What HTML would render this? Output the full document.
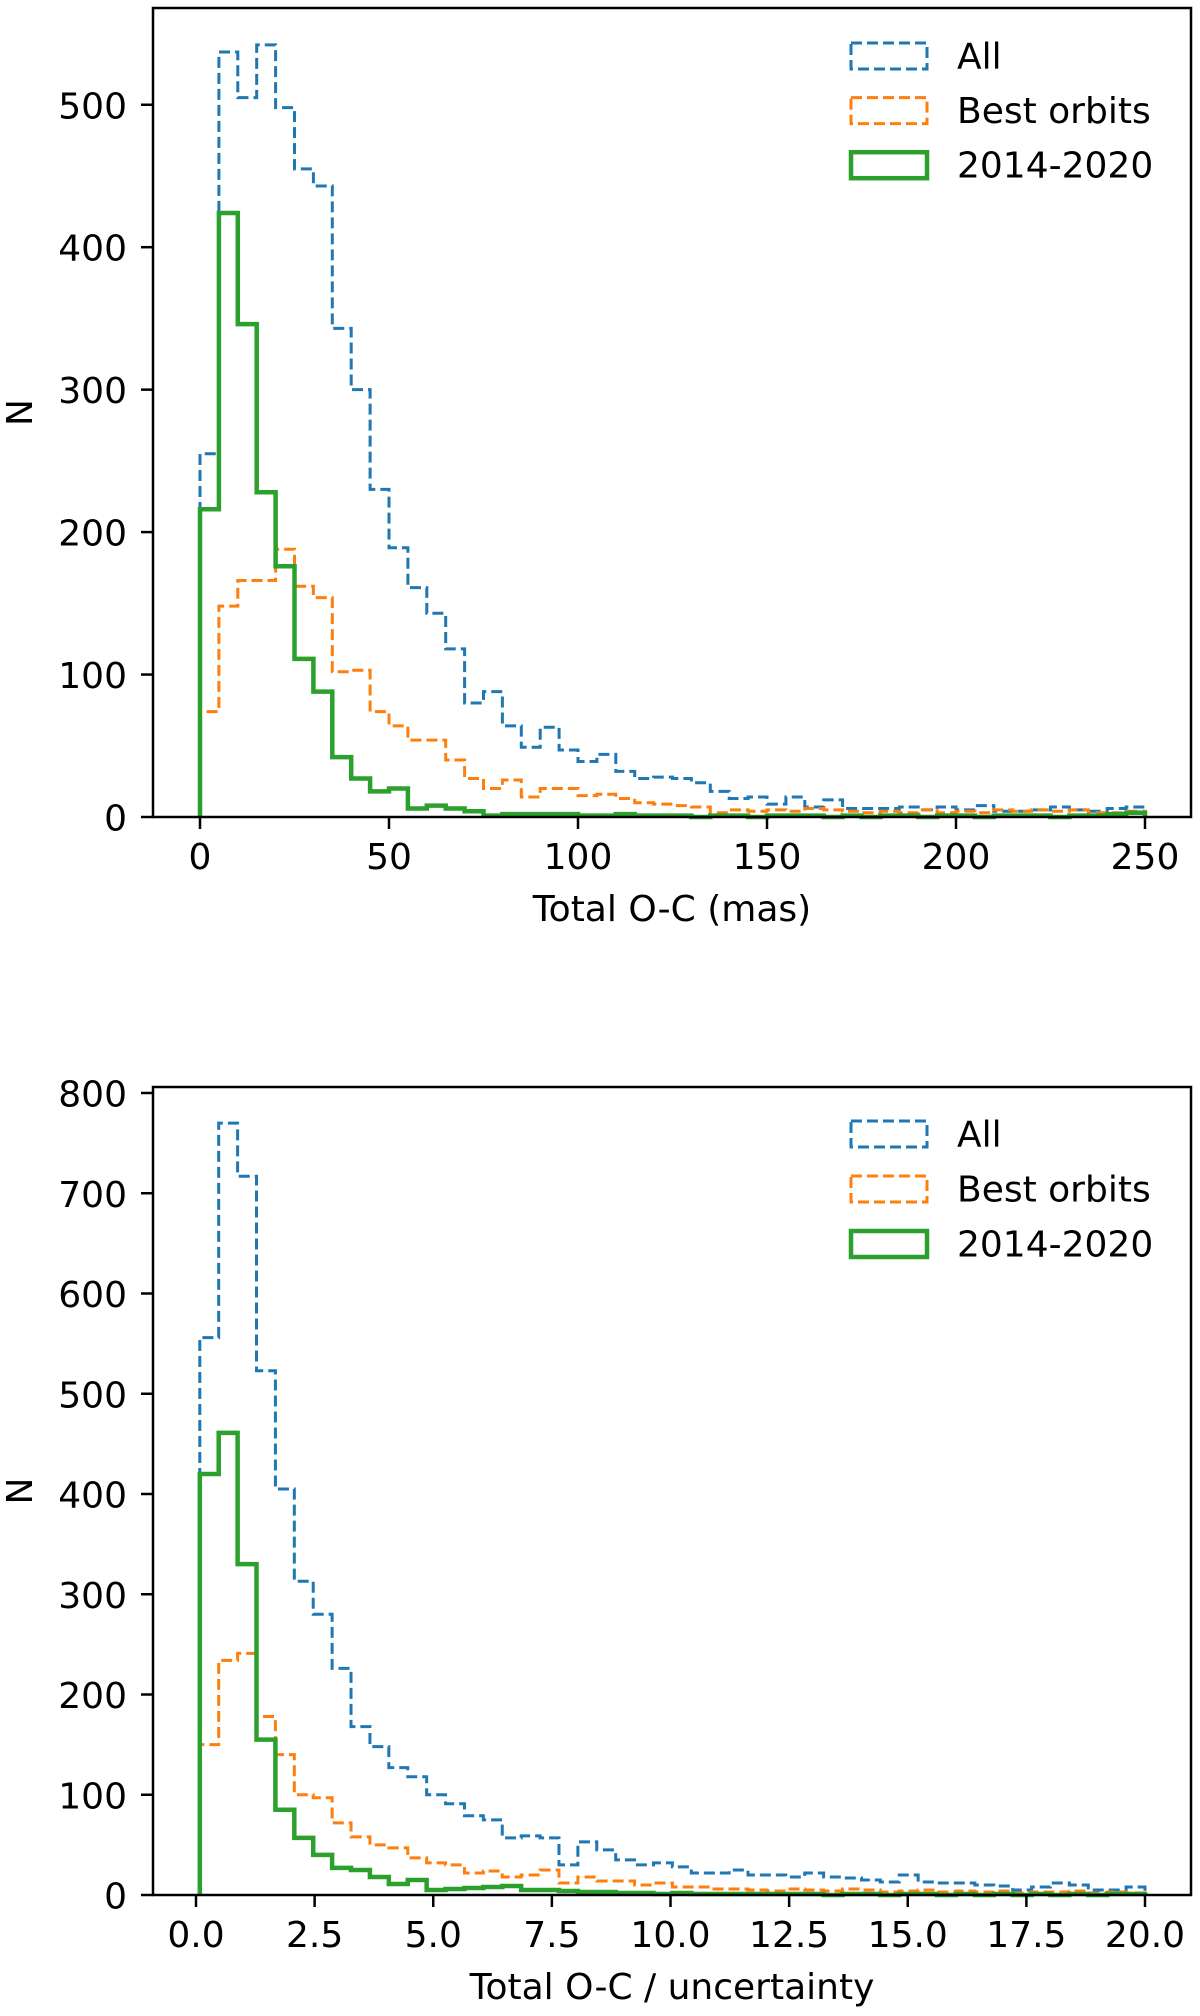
<!DOCTYPE html>
<html><head><meta charset="utf-8"><style>
html,body{margin:0;padding:0;background:#fff}
svg{display:block}
text{font-family:"DejaVu Sans","Liberation Sans",sans-serif;fill:#000}
</style></head><body>
<svg id="fig" width="1200" height="2016" viewBox="0 0 1200 2016" xmlns="http://www.w3.org/2000/svg"></svg>
<script>
// ---- Top panel data (Total O-C in mas, bins of 5 from 0 to 250)
const topBinStart = 0;
const topBinWidth = 5;
const topAll = [255,537,505,542,498,455,443,343,300,230,189,161,143,118,80,88,64,49,63,47,39,44,32,27,28,27,24,18,13,14,9,14,7,12,6,6,6,7,5,7,5,8,4,4,5,7,5,4,6,7];
const topBest = [74,148,166,166,188,162,154,102,103,74,64,54,54,40,27,20,26,14,20,20,15,16,13,10,9,8,7,3,5,4,5,4,6,5,4,3,4,3,5,3,4,3,5,4,5,4,5,3,3,4];
const topRecent = [216,424,346,228,176,111,88,42,27,18,20,6,8,6,4,1,2,2,2,2,1,1,2,1,1,1,0,1,1,0,1,1,1,0,1,0,1,1,0,1,1,0,1,1,1,0,1,1,2,3];
const topXTicks = [0,50,100,150,200,250];
const topXTickLabels = ["0","50","100","150","200","250"];
const topYTicks = [0,100,200,300,400,500];
const topYTickLabels = ["0","100","200","300","400","500"];

// ---- Bottom panel data (Total O-C / uncertainty)
const botBinStart = 0.08;
const botBinWidth = 0.3984;
const botAll = [556,770,717,523,405,313,280,226,168,148,127,118,100,91,79,75,57,59,57,30,53,45,35,30,32,28,22,22,25,20,20,18,22,18,17,15,13,20,13,12,12,10,9,5,8,12,10,5,5,8];
const botBest = [150,234,241,178,140,100,97,72,58,50,47,37,32,30,22,24,18,20,25,12,18,14,14,10,12,8,8,6,6,5,4,6,5,4,6,5,3,4,5,3,4,3,4,2,3,3,4,2,3,2];
const botRecent = [420,461,330,155,85,57,40,27,25,18,11,15,5,6,7,8,9,5,5,4,3,3,2,2,1,2,1,1,1,1,1,1,1,0,1,1,0,1,1,0,1,0,1,0,1,0,1,0,1,1];
const botXTicks = [0,2.5,5,7.5,10,12.5,15,17.5,20];
const botXTickLabels = ["0.0","2.5","5.0","7.5","10.0","12.5","15.0","17.5","20.0"];
const botYTicks = [0,100,200,300,400,500,600,700,800];
const botYTickLabels = ["0","100","200","300","400","500","600","700","800"];

const legendLabels = ["All","Best orbits","2014-2020"];

const NS = "http://www.w3.org/2000/svg";
const fig = document.getElementById('fig');
function mk(tag, attrs, parent){
  const e = document.createElementNS(NS, tag);
  for (const k in attrs) e.setAttribute(k, attrs[k]);
  (parent||fig).appendChild(e);
  return e;
}
const styles = [
  {color:"#1f77b4", w:3, dash:"11,5"},
  {color:"#ff7f0e", w:3, dash:"11,5"},
  {color:"#2ca02c", w:4.5, dash:null}
];
const FS = 36;

function panel(cfg){
  const g = mk('g', {});
  
  
  const xs = v => cfg.x0 + v*cfg.kx;
  const ys = v => cfg.y0 - v*cfg.ky;
  const series = [cfg.all, cfg.best, cfg.recent];
  const names = ['hist-all','hist-best-orbits','hist-2014-2020'];
  series.forEach((vals, si) => {
    let d = `M${xs(cfg.binStart)},${ys(0)}`;
    vals.forEach((v,i) => {
      const a = cfg.binStart + i*cfg.binWidth, b = a + cfg.binWidth;
      d += ` L${xs(a)},${ys(v)} L${xs(b)},${ys(v)}`;
    });
    d += ` L${xs(cfg.binStart + vals.length*cfg.binWidth)},${ys(0)}`;
    const st = styles[si];
    const p = mk('path', {d:d, fill:'none', stroke:st.color, 'stroke-width':st.w, 'stroke-linejoin':'miter'}, g);
    if (st.dash) p.setAttribute('stroke-dasharray', st.dash);
    
    
  });
  const fr = mk('rect', {x:cfg.left, y:cfg.top, width:cfg.right-cfg.left, height:cfg.bottom-cfg.top, fill:'none', stroke:'#000', 'stroke-width':2.5}, g);
  
  
  cfg.xticks.forEach((t,i) => {
    const x = xs(t);
    mk('line', {x1:x, x2:x, y1:cfg.bottom, y2:cfg.bottom+12, stroke:'#000', 'stroke-width':2.5}, g);
    const tx = mk('text', {x:x, y:cfg.bottom+52, 'font-size':FS, 'text-anchor':'middle'}, g);
    tx.textContent = cfg.xlabels[i];
    
    
  });
  cfg.yticks.forEach((t,i) => {
    const y = ys(t);
    mk('line', {x1:cfg.left-12, x2:cfg.left, y1:y, y2:y, stroke:'#000', 'stroke-width':2.5}, g);
    const tx = mk('text', {x:cfg.left-26, y:y+13.5, 'font-size':FS, 'text-anchor':'end'}, g);
    tx.textContent = cfg.ylabels[i];
    
    
  });
  const xt = mk('text', {x:(cfg.left+cfg.right)/2, y:cfg.bottom+104, 'font-size':FS, 'text-anchor':'middle'}, g);
  xt.textContent = cfg.xtitle;
  
  
  const cy = (cfg.top+cfg.bottom)/2;
  const yt = mk('text', {x:0, y:0, 'font-size':FS, 'text-anchor':'middle', transform:`translate(32,${cy}) rotate(-90)`}, g);
  yt.textContent = 'N';
  
  
  const lg = mk('g', {}, g);
  
  
  legendLabels.forEach((lab, i) => {
    const cyl = cfg.legendY + i*cfg.legendStep;
    const st = styles[i];
    const r = mk('rect', {x:851, y:cyl-13, width:76, height:26, fill:'none', stroke:st.color, 'stroke-width':st.w}, lg);
    if (st.dash) r.setAttribute('stroke-dasharray', st.dash);
    
    
    const tx = mk('text', {x:957, y:cyl+12.5, 'font-size':FS}, lg);
    tx.textContent = lab;
    
    
  });
}

panel({name:'top-panel', left:153, right:1191, top:8, bottom:817,
  x0:200, kx:3.78, y0:817, ky:1.4245,
  binStart:topBinStart, binWidth:topBinWidth,
  all:topAll, best:topBest, recent:topRecent,
  xticks:topXTicks, xlabels:topXTickLabels, yticks:topYTicks, ylabels:topYTickLabels,
  xtitle:'Total O-C (mas)', legendY:56, legendStep:54.6});

panel({name:'bottom-panel', left:153, right:1191, top:1087, bottom:1895,
  x0:196, kx:47.45, y0:1895, ky:1.0025,
  binStart:botBinStart, binWidth:botBinWidth,
  all:botAll, best:botBest, recent:botRecent,
  xticks:botXTicks, xlabels:botXTickLabels, yticks:botYTicks, ylabels:botYTickLabels,
  xtitle:'Total O-C / uncertainty', legendY:1134, legendStep:55});
</script>
</body></html>
